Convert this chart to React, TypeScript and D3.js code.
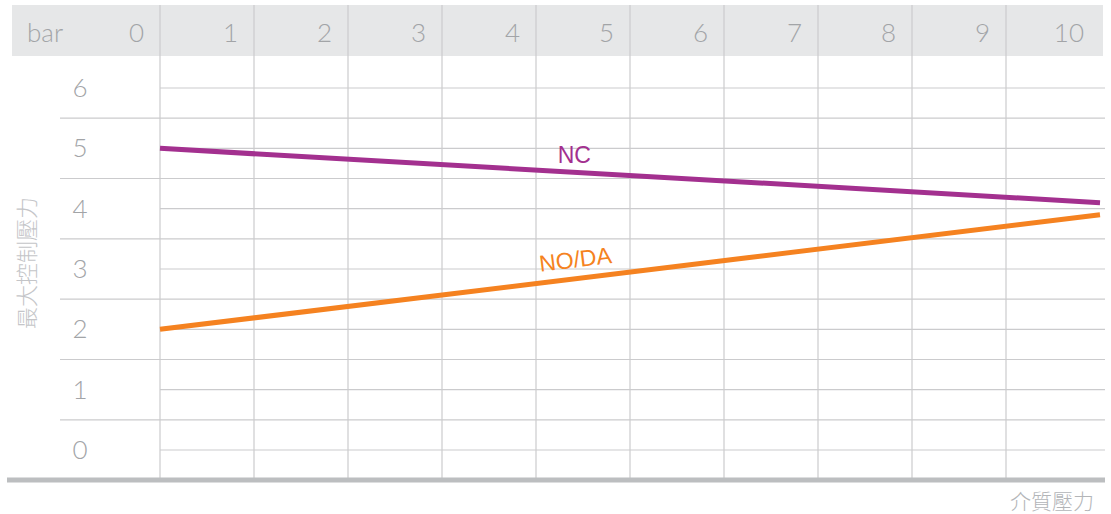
import React from "react";
import * as d3 from "d3";

const xTicks = [0, 1, 2, 3, 4, 5, 6, 7, 8, 9, 10];
const yTicks = [0, 1, 2, 3, 4, 5, 6];
const pressureX = [0, 10];
const ncValues = [5.0, 4.1];
const nodaValues = [2.0, 3.9];
const seriesNames = ["NC", "NO/DA"];
const seriesColors = ["#a3308f", "#f58220"];
const xTitle = "介質壓力";
const yTitle = "最大控制壓力";
const unitLabel = "bar";

const W = 1111;
const H = 514;

export default function App() {
  const x = d3.scaleLinear().domain([0, 10]).range([160, 1100]);
  const y = d3.scaleLinear().domain([0, 6]).range([450, 88]);
  const line = d3
    .line<[number, number]>()
    .x((d) => x(d[0]))
    .y((d) => y(d[1]));
  const series = [ncValues, nodaValues].map((vals) =>
    pressureX.map((px, i) => [px, vals[i]] as [number, number])
  );
  const gridColor = "#cbcbcd";
  const textColor = "#a2a4a7";
  const font = "Lato, 'DejaVu Sans', sans-serif";
  const halfTicks = yTicks.slice(0, -1).map((v) => v + 0.5);

  const ncLabelX = 4.45;
  const nodaLabelX = 4.45;
  const ncAt = (t: number) => ncValues[0] + ((ncValues[1] - ncValues[0]) * t) / 10;
  const nodaAt = (t: number) => nodaValues[0] + ((nodaValues[1] - nodaValues[0]) * t) / 10;
  const nodaAngle =
    (Math.atan2(y(nodaValues[1]) - y(nodaValues[0]), x(10) - x(0)) * 180) / Math.PI;

  return (
    <svg
      width={W}
      height={H}
      style={{ position: "absolute", left: 0, top: 0, background: "#fff" }}
    >
      <rect x={12} y={5} width={1091} height={51} fill="#e6e7e8" />
      {halfTicks.map((v) => (
        <line key={"h" + v} x1={60} x2={1105} y1={y(v)} y2={y(v)} stroke={gridColor} strokeWidth={1.2} />
      ))}
      {yTicks.map((v) => (
        <line key={"i" + v} x1={x(0)} x2={1105} y1={y(v)} y2={y(v)} stroke={gridColor} strokeWidth={1.2} />
      ))}
      {xTicks.slice(0, -1).map((v) => (
        <line key={"v" + v} x1={x(v)} x2={x(v)} y1={5} y2={478} stroke={gridColor} strokeWidth={1.2} />
      ))}
      <line x1={7} x2={1105} y1={480} y2={480} stroke="#bcbec0" strokeWidth={5} />

      <text x={27} y={42} fontFamily={font} fontWeight={300} fontSize={26} fill={textColor}>
        {unitLabel}
      </text>
      {xTicks.map((v) => (
        <text
          key={"xl" + v}
          x={x(v) - 16}
          y={42}
          textAnchor="end"
          fontFamily={font}
          fontWeight={300}
          fontSize={26}
          fill={textColor}
        >
          {v}
        </text>
      ))}
      {yTicks.map((v) => (
        <text
          key={"yl" + v}
          x={80}
          y={y(v) + 9}
          textAnchor="middle"
          fontFamily={font}
          fontWeight={300}
          fontSize={26}
          fill={textColor}
        >
          {v}
        </text>
      ))}
      <text
        transform={`translate(35,263) rotate(-90)`}
        textAnchor="middle"
        fontFamily="'Noto Sans CJK TC', sans-serif"
        fontWeight={300}
        fontSize={22}
        fill="#c4c5c8"
      >
        {yTitle}
      </text>
      <text
        x={1094}
        y={509}
        textAnchor="end"
        fontFamily="'Noto Sans CJK TC', sans-serif"
        fontWeight={300}
        fontSize={21}
        fill="#b3b5b8"
      >
        {xTitle}
      </text>

      {series.map((d, i) => (
        <path key={"s" + i} d={line(d) || ""} fill="none" stroke={seriesColors[i]} strokeWidth={5} />
      ))}
      <text
        x={x(ncLabelX) - 4}
        y={y(ncAt(ncLabelX)) - 9.5}
        textAnchor="middle"
        fontFamily="'Liberation Sans', Arial, sans-serif"
        fontSize={23}
        fill={seriesColors[0]}
      >
        {seriesNames[0]}
      </text>
      <text
        transform={`translate(${x(nodaLabelX) - 2},${y(nodaAt(nodaLabelX)) - 11}) rotate(${nodaAngle})`}
        textAnchor="middle"
        fontFamily="'Liberation Sans', Arial, sans-serif"
        fontSize={23}
        fill={seriesColors[1]}
      >
        {seriesNames[1]}
      </text>
    </svg>
  );
}
